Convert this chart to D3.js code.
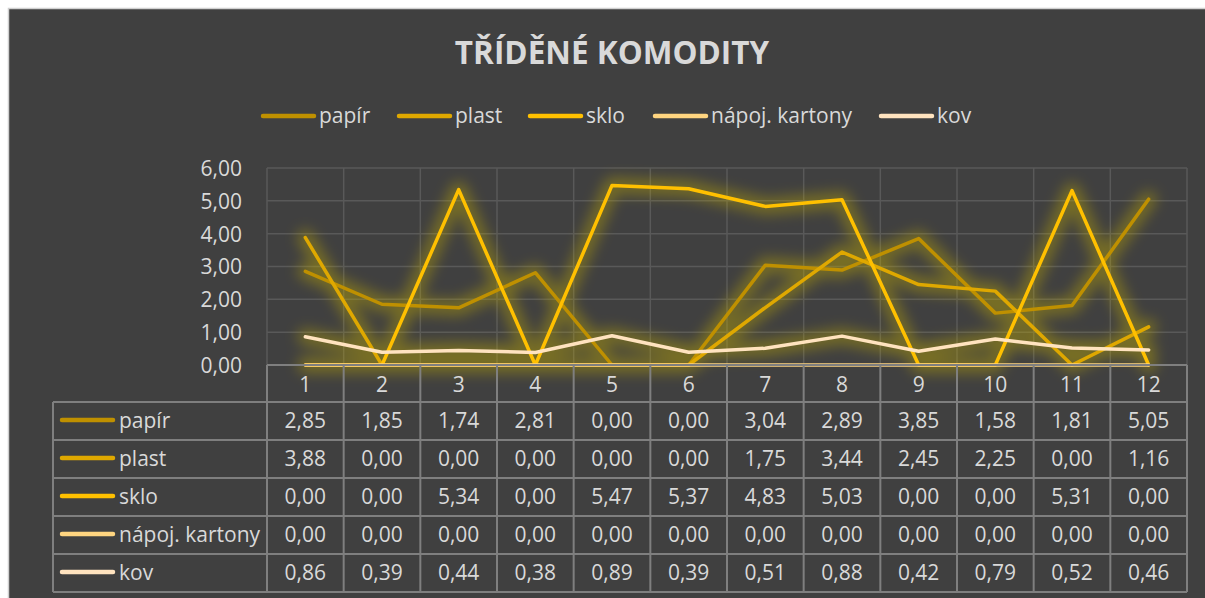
<!DOCTYPE html>
<meta charset="utf-8">
<script src="https://d3js.org/d3.v7.min.js"></script>
<style>
  body { margin: 0; background: #fff; }
  text { font-family: "Open Sans", sans-serif; }
</style>
<div id="my_dataviz"></div>
<script>

  // data
  var categories = ["1","2","3","4","5","6","7","8","9","10","11","12"];
  var seriesNames = ["papír", "plast", "sklo", "nápoj. kartony", "kov"];
  var papir   = [2.85, 1.85, 1.74, 2.81, 0.00, 0.00, 3.04, 2.89, 3.85, 1.58, 1.81, 5.05];
  var plast   = [3.88, 0.00, 0.00, 0.00, 0.00, 0.00, 1.75, 3.44, 2.45, 2.25, 0.00, 1.16];
  var sklo    = [0.00, 0.00, 5.34, 0.00, 5.47, 5.37, 4.83, 5.03, 0.00, 0.00, 5.31, 0.00];
  var kartony = [0.00, 0.00, 0.00, 0.00, 0.00, 0.00, 0.00, 0.00, 0.00, 0.00, 0.00, 0.00];
  var kov     = [0.86, 0.39, 0.44, 0.38, 0.89, 0.39, 0.51, 0.88, 0.42, 0.79, 0.52, 0.46];
  var yTicks = [0, 1, 2, 3, 4, 5, 6];
  var colors = ["#bf9000", "#dfa800", "#ffc000", "#ffd580", "#ffe3bf"];

  var series = [papir, plast, sklo, kartony, kov];

  var W = 1205, H = 598;
  var plotLeft = 267, plotRight = 1187, plotTop = 168, plotBottom = 365;
  var tableLeft = 53, headerH = 37, rowH = 38;
  var fs = 21;

  var locale = d3.formatLocale({decimal: ",", thousands: " ", grouping: [3], currency: ["", " Kč"]});
  var fmt = locale.format(".2f");

  var svg = d3.select("#my_dataviz")
    .append("svg")
      .attr("width", W)
      .attr("height", H);

  var defs = svg.append("defs");
  defs.append("filter")
      .attr("id", "glow")
      .attr("x", "-20%").attr("y", "-20%")
      .attr("width", "140%").attr("height", "140%")
    .append("feGaussianBlur")
      .attr("stdDeviation", 7);

  // chart area background
  svg.append("rect")
    .attr("x", 8.5).attr("y", 8.5)
    .attr("width", W).attr("height", H)
    .attr("fill", "#404040")
    .attr("stroke", "#d0d0d0")
    .attr("stroke-width", 1.5);

  // title
  svg.append("text")
    .attr("x", 612)
    .attr("y", 64)
    .attr("text-anchor", "middle")
    .attr("fill", "#d9d9d9")
    .attr("font-size", 31.5)
    .attr("font-weight", "bold")
    .text("TŘÍDĚNÉ KOMODITY");

  // scales
  var x = d3.scaleBand()
    .domain(categories)
    .range([plotLeft, plotRight]);

  var y = d3.scaleLinear()
    .domain([0, 6])
    .range([plotBottom, plotTop]);

  // gridlines
  svg.append("g")
    .selectAll("line")
    .data(yTicks)
    .enter()
    .append("line")
      .attr("x1", plotLeft).attr("x2", plotRight)
      .attr("y1", function(d) { return y(d); })
      .attr("y2", function(d) { return y(d); })
      .attr("stroke", "#595959")
      .attr("stroke-width", 1.5);

  svg.append("g")
    .selectAll("line")
    .data(categories.concat(["end"]))
    .enter()
    .append("line")
      .attr("x1", function(d, i) { return plotLeft + i * x.bandwidth(); })
      .attr("x2", function(d, i) { return plotLeft + i * x.bandwidth(); })
      .attr("y1", plotTop)
      .attr("y2", plotBottom)
      .attr("stroke", "#595959")
      .attr("stroke-width", 1.5);

  // y axis
  var yAxis = svg.append("g")
    .attr("transform", "translate(" + (plotLeft - 22) + ",0)")
    .call(d3.axisLeft(y).tickValues(yTicks).tickSize(0).tickFormat(fmt));
  yAxis.select(".domain").remove();
  yAxis.selectAll("text")
    .attr("fill", "#d9d9d9")
    .attr("font-size", fs)
    .attr("font-family", "'Open Sans', sans-serif")
    .attr("dy", "0.35em");

  // lines
  var line = d3.line()
    .x(function(d, i) { return x(categories[i]) + x.bandwidth() / 2; })
    .y(function(d) { return y(d); });

  // soft glow under the series
  var glowG = svg.append("g").attr("filter", "url(#glow)").attr("opacity", 0.42);
  series.forEach(function(s, k) {
    if (k === 3) return;
    glowG.append("path")
      .datum(s)
      .attr("d", line)
      .attr("fill", "none")
      .attr("stroke", "#c4ad00")
      .attr("stroke-width", 16)
      .attr("stroke-linejoin", "round")
      .attr("stroke-linecap", "round");
  });

  series.forEach(function(s, k) {
    svg.append("path")
      .datum(s)
      .attr("d", line)
      .attr("fill", "none")
      .attr("stroke", colors[k])
      .attr("stroke-width", 3.5)
      .attr("stroke-linejoin", "round")
      .attr("stroke-linecap", "round");
  });

  // legend
  var legendX = [261, 397, 528, 653, 879];
  var legend = svg.append("g");
  seriesNames.forEach(function(name, k) {
    legend.append("line")
      .attr("x1", legendX[k] + 2).attr("x2", legendX[k] + 53)
      .attr("y1", 116).attr("y2", 116)
      .attr("stroke", colors[k])
      .attr("stroke-width", 4.5)
      .attr("stroke-linecap", "round");
    legend.append("text")
      .attr("x", legendX[k] + 58)
      .attr("y", 116)
      .attr("dy", "0.35em")
      .attr("fill", "#d9d9d9")
      .attr("font-size", fs)
      .text(name);
  });

  // data table
  var table = svg.append("g");
  var tableBottom = plotBottom + headerH + rowH * series.length;
  var gridColor = "#7f7f7f";

  // header numbers
  table.selectAll(".hdr")
    .data(categories)
    .enter()
    .append("text")
      .attr("class", "hdr")
      .attr("x", function(d) { return x(d) + x.bandwidth() / 2; })
      .attr("y", plotBottom + headerH / 2 + 1)
      .attr("dy", "0.35em")
      .attr("text-anchor", "middle")
      .attr("fill", "#d9d9d9")
      .attr("font-size", fs)
      .text(function(d) { return d; });

  // horizontal table lines
  var hLines = [plotBottom + headerH];
  for (var r = 1; r <= series.length; r++) hLines.push(plotBottom + headerH + r * rowH);
  table.selectAll(".hl")
    .data(hLines)
    .enter()
    .append("line")
      .attr("x1", tableLeft).attr("x2", plotRight)
      .attr("y1", function(d) { return d; })
      .attr("y2", function(d) { return d; })
      .attr("stroke", gridColor)
      .attr("stroke-width", 2);
  table.append("line")
    .attr("x1", plotLeft).attr("x2", plotRight)
    .attr("y1", plotBottom).attr("y2", plotBottom)
    .attr("stroke", gridColor).attr("stroke-width", 2);

  // vertical table lines
  table.selectAll(".vl")
    .data(categories.concat(["end"]))
    .enter()
    .append("line")
      .attr("x1", function(d, i) { return plotLeft + i * x.bandwidth(); })
      .attr("x2", function(d, i) { return plotLeft + i * x.bandwidth(); })
      .attr("y1", plotBottom)
      .attr("y2", tableBottom)
      .attr("stroke", gridColor)
      .attr("stroke-width", 2);
  table.append("line")
    .attr("x1", tableLeft).attr("x2", tableLeft)
    .attr("y1", plotBottom + headerH).attr("y2", tableBottom)
    .attr("stroke", gridColor).attr("stroke-width", 2);

  // rows
  series.forEach(function(s, k) {
    var cy = plotBottom + headerH + k * rowH + rowH / 2;
    table.append("line")
      .attr("x1", 62).attr("x2", 113)
      .attr("y1", cy - 1).attr("y2", cy - 1)
      .attr("stroke", colors[k])
      .attr("stroke-width", 4.5)
      .attr("stroke-linecap", "round");
    table.append("text")
      .attr("x", 119)
      .attr("y", cy)
      .attr("dy", "0.35em")
      .attr("fill", "#d9d9d9")
      .attr("font-size", fs)
      .text(seriesNames[k]);
    table.selectAll(".v" + k)
      .data(s)
      .enter()
      .append("text")
        .attr("x", function(d, i) { return x(categories[i]) + x.bandwidth() / 2; })
        .attr("y", cy)
        .attr("dy", "0.35em")
        .attr("text-anchor", "middle")
        .attr("fill", "#d9d9d9")
        .attr("font-size", fs)
        .text(function(d) { return fmt(d); });
  });

</script>
